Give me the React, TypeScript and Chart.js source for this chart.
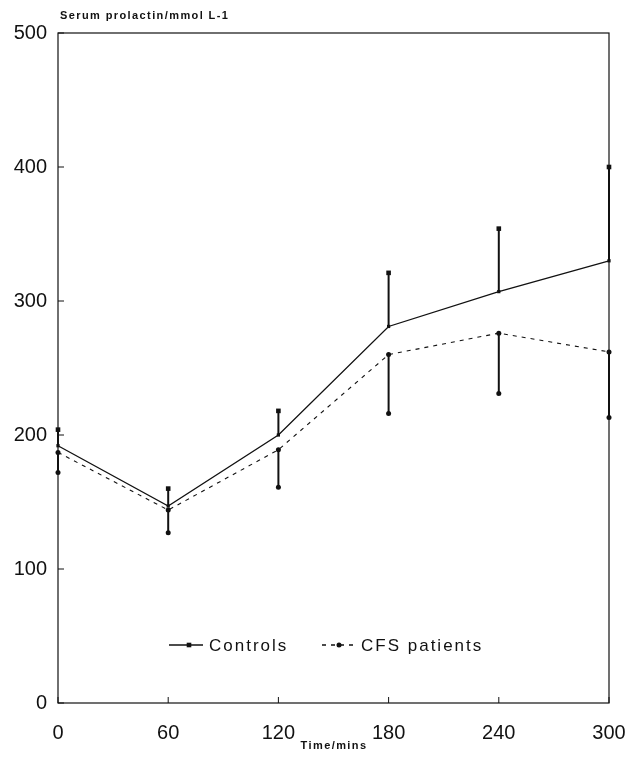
import React, { useEffect, useRef } from "react";
import { Chart, registerables } from "chart.js";

Chart.register(...registerables);

const times = [0, 60, 120, 180, 240, 300];
const controlsMean = [192, 147, 200, 281, 307, 330];
const controlsUpper = [204, 160, 218, 321, 354, 400];
const patientsMean = [187, 144, 189, 260, 276, 262];
const patientsLower = [172, 127, 161, 216, 231, 213];
const xTicks = [0, 60, 120, 180, 240, 300];
const yTicks = [0, 100, 200, 300, 400, 500];
const yTitle = "Serum prolactin/mmol L-1";
const xTitle = "Time/mins";
const legendLabels = ["Controls", "CFS patients"];

const FONT = '"Liberation Sans", Arial, Helvetica, sans-serif';
const INK = "#111";

function drawMarker(ctx: CanvasRenderingContext2D, x: number, y: number, style: string, r: number) {
  ctx.fillStyle = INK;
  if (style === "rect") {
    ctx.fillRect(x - r, y - r, 2 * r, 2 * r);
  } else {
    ctx.beginPath();
    ctx.arc(x, y, r, 0, Math.PI * 2);
    ctx.fill();
  }
}

const decorPlugin = {
  id: "decor",
  beforeDatasetsDraw(chart: any) {
    const { ctx, chartArea, scales } = chart;
    const xs = scales.x;
    const ys = scales.y;
    ctx.save();
    ctx.strokeStyle = INK;
    ctx.lineWidth = 1.2;
    ctx.strokeRect(chartArea.left, chartArea.top, chartArea.right - chartArea.left, chartArea.bottom - chartArea.top);
    ctx.lineWidth = 1;
    yTicks.forEach((v) => {
      const py = ys.getPixelForValue(v);
      ctx.beginPath();
      ctx.moveTo(chartArea.left, py);
      ctx.lineTo(chartArea.left + 6, py);
      ctx.stroke();
    });
    xTicks.forEach((v) => {
      const px = xs.getPixelForValue(v);
      ctx.beginPath();
      ctx.moveTo(px, chartArea.bottom);
      ctx.lineTo(px, chartArea.bottom - 6);
      ctx.stroke();
    });
    ctx.lineWidth = 2;
    times.forEach((t, i) => {
      const px = xs.getPixelForValue(t);
      ctx.beginPath();
      ctx.moveTo(px, ys.getPixelForValue(controlsMean[i]));
      ctx.lineTo(px, ys.getPixelForValue(controlsUpper[i]));
      ctx.stroke();
      drawMarker(ctx, px, ys.getPixelForValue(controlsUpper[i]), "rect", 2.3);
      ctx.beginPath();
      ctx.moveTo(px, ys.getPixelForValue(patientsMean[i]));
      ctx.lineTo(px, ys.getPixelForValue(patientsLower[i]));
      ctx.stroke();
      drawMarker(ctx, px, ys.getPixelForValue(patientsLower[i]), "circle", 2.5);
    });
    ctx.restore();
  },
  afterDraw(chart: any) {
    const { ctx, chartArea } = chart;
    ctx.save();
    ctx.fillStyle = INK;
    ctx.textBaseline = "middle";
    ctx.font = `bold 11px ${FONT}`;
    (ctx as any).letterSpacing = "1.4px";
    ctx.textAlign = "left";
    ctx.fillText(yTitle, chartArea.left + 2, 16);
    ctx.textAlign = "center";
    ctx.fillText(xTitle, 334, 746);
    const ly = 645;
    ctx.strokeStyle = INK;
    ctx.lineWidth = 1.3;
    ctx.setLineDash([]);
    ctx.beginPath();
    ctx.moveTo(169, ly);
    ctx.lineTo(203, ly);
    ctx.stroke();
    drawMarker(ctx, 189, ly, "rect", 2.3);
    ctx.setLineDash([4, 5]);
    ctx.beginPath();
    ctx.moveTo(322, ly);
    ctx.lineTo(354, ly);
    ctx.stroke();
    ctx.setLineDash([]);
    drawMarker(ctx, 339, ly, "circle", 2.5);
    ctx.font = `17px ${FONT}`;
    (ctx as any).letterSpacing = "2px";
    ctx.textAlign = "left";
    ctx.fillText(legendLabels[0], 209, ly + 1);
    ctx.fillText(legendLabels[1], 361, ly + 1);
    ctx.restore();
  },
};

export default function App() {
  const ref = useRef<HTMLCanvasElement | null>(null);
  useEffect(() => {
    if (!ref.current) return;
    const chart = new Chart(ref.current, {
      type: "line",
      data: {
        datasets: [
          {
            label: legendLabels[0],
            data: times.map((t, i) => ({ x: t, y: controlsMean[i] })),
            borderColor: INK,
            backgroundColor: INK,
            borderWidth: 1.3,
            pointStyle: "rect",
            pointRadius: 2.3,
            pointBorderWidth: 0,
            clip: false as any,
          },
          {
            label: legendLabels[1],
            data: times.map((t, i) => ({ x: t, y: patientsMean[i] })),
            borderColor: INK,
            backgroundColor: INK,
            borderWidth: 1.1,
            borderDash: [4, 5],
            pointStyle: "circle",
            pointRadius: 2.5,
            pointBorderWidth: 0,
            clip: false as any,
          },
        ],
      },
      plugins: [decorPlugin],
      options: {
        responsive: false,
        animation: false,
        devicePixelRatio: 1,
        layout: { padding: { top: 33, right: 21, left: 0, bottom: 0 } },
        plugins: { legend: { display: false }, tooltip: { enabled: false } },
        scales: {
          x: {
            type: "linear",
            min: 0,
            max: 300,
            afterBuildTicks: (scale: any) => {
              scale.ticks = xTicks.map((v) => ({ value: v }));
            },
            afterFit: (scale: any) => {
              scale.height = 54;
              scale.paddingLeft = 0;
              scale.paddingRight = 0;
            },
            grid: { display: false, drawTicks: false },
            border: { display: false },
            ticks: {
              color: INK,
              padding: 18,
              maxRotation: 0,
              font: { family: FONT, size: 20 },
            },
          },
          y: {
            type: "linear",
            min: 0,
            max: 500,
            afterBuildTicks: (scale: any) => {
              scale.ticks = yTicks.map((v) => ({ value: v }));
            },
            afterFit: (scale: any) => {
              scale.width = 58;
              scale.paddingTop = 0;
              scale.paddingBottom = 0;
            },
            grid: { display: false, drawTicks: false },
            border: { display: false },
            ticks: {
              color: INK,
              padding: 11,
              font: { family: FONT, size: 20 },
            },
          },
        },
      },
    } as any);
    return () => chart.destroy();
  }, []);
  return (
    <div style={{ position: "absolute", left: 0, top: 0, width: 630, height: 757, background: "#fff" }}>
      <canvas ref={ref} width={630} height={757} style={{ width: 630, height: 757 }} />
    </div>
  );
}
